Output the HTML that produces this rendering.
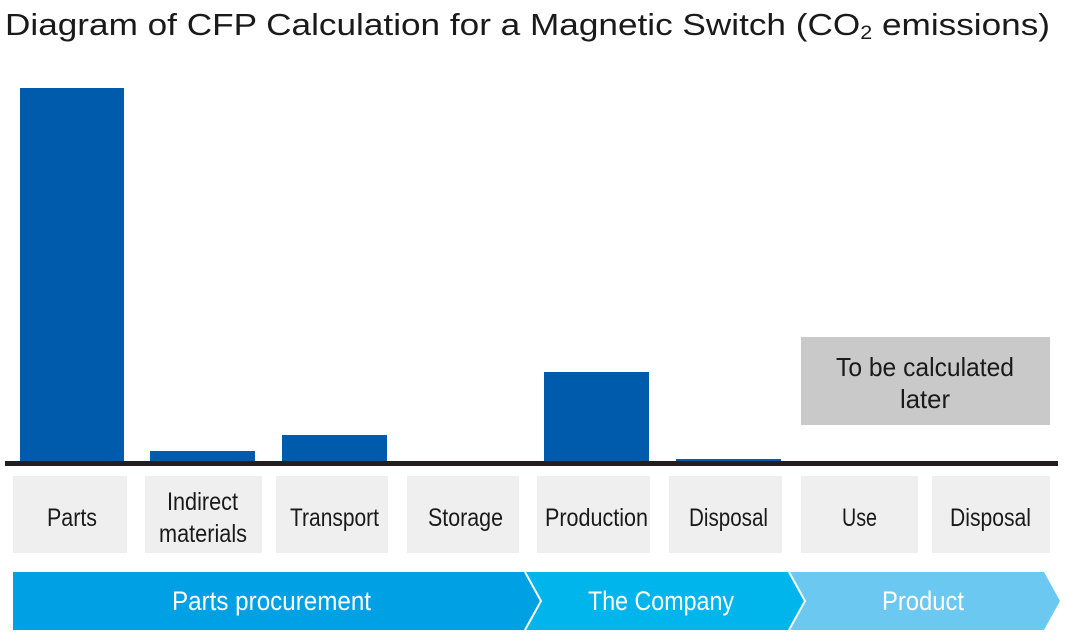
<!DOCTYPE html>
<html><head><meta charset="utf-8"><style>
html,body{margin:0;padding:0;background:#fff;}
svg{display:block;}
text{font-family:"Liberation Sans",sans-serif;}
</style></head><body>
<svg width="1068" height="636" viewBox="0 0 1068 636" xmlns="http://www.w3.org/2000/svg">
<text x="5" y="35" font-size="31" fill="#1a1a1a" textLength="1045" lengthAdjust="spacingAndGlyphs">Diagram of CFP Calculation for a Magnetic Switch (CO<tspan font-size="19" dy="4">2</tspan><tspan dy="-4"> emissions)</tspan></text>
<g fill="#005bac">
<rect x="20" y="88" width="104" height="375"/>
<rect x="150" y="451" width="105" height="12"/>
<rect x="282" y="435" width="105" height="28"/>
<rect x="544" y="372" width="105" height="91"/>
<rect x="676" y="459" width="105" height="4"/>
</g>
<rect x="5" y="461" width="1053" height="5" fill="#231f20"/>
<rect x="801" y="337" width="249" height="88" fill="#c9c9c9"/>
<g font-size="26" fill="#1a1a1a">
<text x="836" y="376" textLength="178" lengthAdjust="spacingAndGlyphs">To be calculated</text>
<text x="900" y="408" textLength="50" lengthAdjust="spacingAndGlyphs">later</text>
</g>
<g fill="#efefef">
<rect x="13" y="476" width="114" height="77"/>
<rect x="145" y="476" width="117" height="77"/>
<rect x="276" y="476" width="112" height="77"/>
<rect x="407" y="476" width="112" height="77"/>
<rect x="537" y="476" width="113" height="77"/>
<rect x="669" y="476" width="113" height="77"/>
<rect x="801" y="476" width="117" height="77"/>
<rect x="932" y="476" width="118" height="77"/>
</g>
<g font-size="25" fill="#1a1a1a">
<text x="47" y="526" textLength="50" lengthAdjust="spacingAndGlyphs">Parts</text>
<text x="167" y="510" textLength="71" lengthAdjust="spacingAndGlyphs">Indirect</text>
<text x="159" y="542" textLength="88" lengthAdjust="spacingAndGlyphs">materials</text>
<text x="290" y="526" textLength="89" lengthAdjust="spacingAndGlyphs">Transport</text>
<text x="428" y="526" textLength="75" lengthAdjust="spacingAndGlyphs">Storage</text>
<text x="545" y="526" textLength="103" lengthAdjust="spacingAndGlyphs">Production</text>
<text x="689" y="526" textLength="79" lengthAdjust="spacingAndGlyphs">Disposal</text>
<text x="842" y="526" textLength="35" lengthAdjust="spacingAndGlyphs">Use</text>
<text x="950" y="526" textLength="81" lengthAdjust="spacingAndGlyphs">Disposal</text>
</g>
<polygon points="13,572 525,572 541,601 525,630 13,630" fill="#00a0e4"/>
<polygon points="525,572 789,572 805,601 789,630 525,630 541,601" fill="#00b4ec"/>
<polygon points="789,572 1044,572 1060,601 1044,630 789,630 805,601" fill="#6bc8f0"/>
<polyline points="525,572 541,601 525,630" fill="none" stroke="#fff" stroke-width="2"/>
<polyline points="789,572 805,601 789,630" fill="none" stroke="#fff" stroke-width="2"/>
<g font-size="27" fill="#fff">
<text x="172" y="610" textLength="199" lengthAdjust="spacingAndGlyphs">Parts procurement</text>
<text x="588" y="610" textLength="146" lengthAdjust="spacingAndGlyphs">The Company</text>
<text x="882" y="610" textLength="82" lengthAdjust="spacingAndGlyphs">Product</text>
</g>
</svg>
</body></html>
